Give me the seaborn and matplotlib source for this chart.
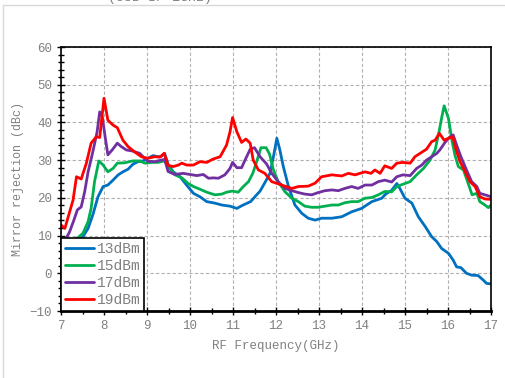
import numpy as np
import pandas as pd
import matplotlib
matplotlib.use("Agg")
import matplotlib.pyplot as plt
import seaborn as sns
from matplotlib.ticker import MultipleLocator
from matplotlib.lines import Line2D

# ---------------- data ----------------
series_names = ["13dBm", "15dBm", "17dBm", "19dBm"]
series_colors = ["#0070C0", "#00B050", "#7030A0", "#FF0000"]

f13 = [7.00, 7.08, 7.20, 7.40, 7.51, 7.63, 7.74, 7.86, 7.98, 8.09, 8.21, 8.33, 8.44, 8.56, 8.67,
       8.79, 8.91, 9.02, 9.14, 9.26, 9.33, 9.41, 9.49, 9.61, 9.77, 9.92, 10.08, 10.23, 10.39, 10.58,
       10.74, 10.93, 11.09, 11.20, 11.33, 11.41, 11.51, 11.63, 11.74, 11.86, 11.94, 12.02, 12.09,
       12.17, 12.29, 12.44, 12.60, 12.75, 12.91, 13.06, 13.30, 13.53, 13.76, 13.99, 14.23, 14.46,
       14.55, 14.69, 14.81, 14.88, 15.00, 15.16, 15.31, 15.47, 15.62, 15.74, 15.85, 16.01, 16.12,
       16.20, 16.30, 16.43, 16.55, 16.70, 16.82, 16.90, 17.00]
v13 = [9.5, 8.6, 8.4, 8.4, 9.7, 11.9, 15.5, 20.3, 23.0, 23.4, 24.7, 26.1, 26.9, 27.6, 28.9,
       29.6, 29.8, 30.5, 31.2, 30.9, 31.0, 31.8, 28.9, 26.9, 25.6, 23.4, 21.2, 20.3, 19.0, 18.6,
       18.1, 17.8, 17.2, 17.9, 18.6, 19.0, 20.3, 21.8, 24.0, 26.5, 30.9, 35.8, 32.7,
       28.3, 23.0, 18.1, 15.9, 14.6, 14.1, 14.6, 14.6, 15.0, 16.3, 17.2, 19.0, 19.9,
       21.0, 22.0, 23.8, 22.5, 19.9, 18.6, 15.0, 12.4, 9.7, 8.4, 6.6, 5.3, 3.5,
       1.7, 1.5, 0.0, -0.5, -0.6, -1.8, -2.7, -2.8]

f15 = [7.00, 7.09, 7.24, 7.40, 7.51, 7.63, 7.70, 7.78, 7.88, 7.98, 8.09, 8.21, 8.31, 8.48, 8.67,
       8.83, 8.95, 9.10, 9.26, 9.41, 9.49, 9.65, 9.81, 9.96, 10.08, 10.23, 10.39, 10.58, 10.74,
       10.85, 10.99, 11.12, 11.24, 11.36, 11.46, 11.55, 11.65, 11.77, 11.85, 11.94, 12.05, 12.21,
       12.37, 12.52, 12.67, 12.83, 12.98, 13.14, 13.30, 13.45, 13.60, 13.76, 13.91, 14.07, 14.23,
       14.38, 14.53, 14.69, 14.81, 14.95, 15.12, 15.27, 15.43, 15.58, 15.70, 15.80, 15.85, 15.91,
       16.01, 16.09, 16.16, 16.24, 16.36, 16.47, 16.56, 16.67, 16.74, 16.86, 16.94, 17.00]
v15 = [8.5, 8.6, 8.6, 9.5, 10.6, 13.7, 17.2, 24.3, 29.8, 28.7, 26.9, 27.8, 29.2, 29.3, 29.8,
       29.8, 29.2, 29.4, 29.4, 29.8, 28.3, 26.1, 25.3, 23.8, 23.0, 22.3, 21.5, 20.8, 21.0,
       21.5, 21.8, 21.5, 23.0, 24.3, 26.5, 29.6, 33.3, 33.3, 31.6, 27.4, 24.3, 21.6,
       19.9, 19.0, 17.8, 17.5, 17.5, 17.8, 18.1, 18.1, 18.7, 19.0, 19.0, 19.9, 20.1,
       20.8, 21.7, 21.6, 23.0, 23.6, 24.3, 26.1, 27.8, 30.0, 32.7, 38.0, 41.1, 44.4,
       41.1, 35.3, 31.4, 28.3, 27.4, 23.8, 20.8, 21.2, 19.0, 18.1, 17.4, 18.1]

f17 = [7.00, 7.10, 7.20, 7.30, 7.38, 7.47, 7.55, 7.63, 7.74, 7.84, 7.90, 7.96, 8.02, 8.09, 8.19,
       8.31, 8.40, 8.52, 8.67, 8.83, 8.91, 9.02, 9.18, 9.33, 9.41, 9.49, 9.65, 9.84, 10.00, 10.16,
       10.31, 10.43, 10.54, 10.66, 10.81, 10.93, 10.99, 11.09, 11.20, 11.30, 11.40, 11.50, 11.63,
       11.78, 11.90, 12.05, 12.21, 12.37, 12.52, 12.67, 12.83, 12.98, 13.14, 13.30, 13.45, 13.60,
       13.76, 13.91, 14.07, 14.23, 14.38, 14.53, 14.69, 14.81, 14.95, 15.12, 15.27, 15.39, 15.50,
       15.62, 15.74, 15.81, 15.93, 16.05, 16.12, 16.20, 16.30, 16.43, 16.55, 16.67, 16.74, 16.86,
       17.00]
v17 = [8.5, 8.8, 11.0, 14.1, 16.8, 17.6, 21.6, 26.9, 32.2, 37.5, 42.8, 41.5, 36.7, 31.4, 32.7,
       34.5, 33.6, 32.7, 32.4, 31.8, 30.9, 29.7, 29.6, 30.0, 30.2, 27.0, 26.2, 26.5, 26.2, 25.9,
       26.2, 25.2, 25.3, 25.2, 26.1, 27.8, 29.4, 28.0, 28.0, 30.5, 32.9, 33.3, 30.9,
       29.0, 26.5, 24.3, 22.5, 21.9, 21.4, 21.0, 20.8, 21.4, 21.9, 22.1, 21.9, 22.5,
       23.0, 22.5, 23.4, 23.4, 24.3, 24.7, 24.2, 25.6, 26.1, 25.9, 27.8, 28.7, 30.0,
       30.9, 31.8, 32.7, 34.7, 36.2, 36.7, 34.0, 30.9, 27.4, 24.3, 23.0, 21.2, 20.8,
       20.3]

f19 = [7.00, 7.09, 7.28, 7.36, 7.47, 7.59, 7.70, 7.82, 7.90, 8.00, 8.09, 8.21, 8.31, 8.44, 8.56,
       8.71, 8.87, 9.02, 9.18, 9.30, 9.40, 9.49, 9.61, 9.73, 9.81, 9.92, 10.08, 10.23, 10.39, 10.54,
       10.70, 10.85, 10.93, 10.99, 11.09, 11.20, 11.30, 11.40, 11.47, 11.59, 11.74, 11.90, 12.13,
       12.37, 12.52, 12.75, 12.91, 13.06, 13.30, 13.53, 13.68, 13.84, 13.95, 14.07, 14.21, 14.30,
       14.42, 14.53, 14.69, 14.81, 14.95, 15.12, 15.23, 15.35, 15.50, 15.62, 15.70, 15.80, 15.91,
       16.01, 16.11, 16.19, 16.28, 16.40, 16.51, 16.63, 16.74, 16.86, 17.00]
v19 = [12.8, 11.9, 19.4, 25.6, 25.0, 29.2, 34.5, 36.2, 36.0, 46.4, 40.6, 39.3, 38.6, 35.3, 33.6,
       32.2, 30.9, 30.5, 30.9, 30.8, 31.8, 28.6, 28.3, 28.7, 29.2, 28.7, 28.7, 29.6, 29.4, 30.3,
       30.9, 34.0, 37.5, 41.3, 37.5, 34.7, 35.6, 34.5, 30.0, 27.4, 26.5, 24.3, 23.4,
       22.5, 23.0, 23.1, 23.9, 25.6, 26.1, 25.8, 26.5, 26.1, 26.5, 26.9, 26.5, 27.4,
       26.5, 28.5, 27.8, 29.2, 29.4, 29.2, 30.9, 31.8, 32.9, 34.9, 35.3, 37.1, 35.3,
       35.8, 36.2, 32.7, 29.6, 26.9, 24.3, 23.0, 20.3, 19.7, 19.6]

x_ticks = [7, 8, 9, 10, 11, 12, 13, 14, 15, 16, 17]
y_ticks = [-10, 0, 10, 20, 30, 40, 50, 60]
x_label = "RF Frequency(GHz)"
y_label = "Mirror rejection (dBc)"
title_text = "(USB IF 1GHz)"

# ---------------- build table ----------------
frames = []
for name, fx, vy in zip(series_names, [f13, f15, f17, f19], [v13, v15, v17, v19]):
    frames.append(pd.DataFrame({"freq": fx, "rej": vy, "series": name}))
df = pd.concat(frames, ignore_index=True)

# ---------------- plot ----------------
sns.set_theme(style="white")
plt.rcParams["font.family"] = ["Liberation Mono", "DejaVu Sans"]
gray = "#808080"

fig = plt.figure(figsize=(5.06, 3.78), dpi=100)
ax = fig.add_axes([61 / 506, 1 - 311 / 378, 430 / 506, 264 / 378])

sns.lineplot(data=df, x="freq", y="rej", hue="series", hue_order=series_names,
             palette=dict(zip(series_names, series_colors)), estimator=None, sort=False,
             linewidth=2.0, ax=ax)

ax.set_xlim(7, 17)
ax.set_ylim(-10, 60)
ax.set_xticks(x_ticks)
ax.set_yticks(y_ticks)
ax.xaxis.set_minor_locator(MultipleLocator(0.5))
ax.yaxis.set_minor_locator(MultipleLocator(2))
ax.tick_params(which="both", direction="inout", colors="black", labelcolor=gray,
               labelsize=9, bottom=True, left=True, top=False, right=False)
ax.tick_params(which="major", length=6, width=1)
ax.tick_params(which="minor", length=4, width=1)
ax.grid(True, which="major", linestyle=(0, (3, 2)), color="#b0b0b0", linewidth=0.8)
ax.set_axisbelow(True)

for s in ["top", "left", "right"]:
    ax.spines[s].set_visible(True)
    ax.spines[s].set_color("black")
    ax.spines[s].set_linewidth(1.2)
ax.spines["bottom"].set_color("black")
ax.spines["bottom"].set_linewidth(2.0)

ax.set_xlabel(x_label, color=gray, fontsize=9, labelpad=6)
ax.set_ylabel(y_label, color=gray, fontsize=8.5, labelpad=4)

handles, labels = ax.get_legend_handles_labels()
leg = ax.legend(handles, labels, loc="lower left", bbox_to_anchor=(0, 0), borderaxespad=0,
                frameon=True, fancybox=False, edgecolor="black", framealpha=1, fontsize=10.5,
                handlelength=2.0, handletextpad=0.2, labelspacing=0.22, borderpad=0.25)
leg.get_frame().set_linewidth(1.2)
for t in leg.get_texts():
    t.set_color(gray)

fig.text(160 / 506, 1 - 4 / 378, title_text, ha="center", va="bottom", fontsize=9.5, color=gray)
fig.add_artist(Line2D([3 / 506, 1], [1 - 5 / 378, 1 - 5 / 378], color="#d9d9d9", lw=1))
fig.add_artist(Line2D([3 / 506, 3 / 506], [0, 1 - 5 / 378], color="#d9d9d9", lw=1))

fig.savefig("out.png", dpi=100)
